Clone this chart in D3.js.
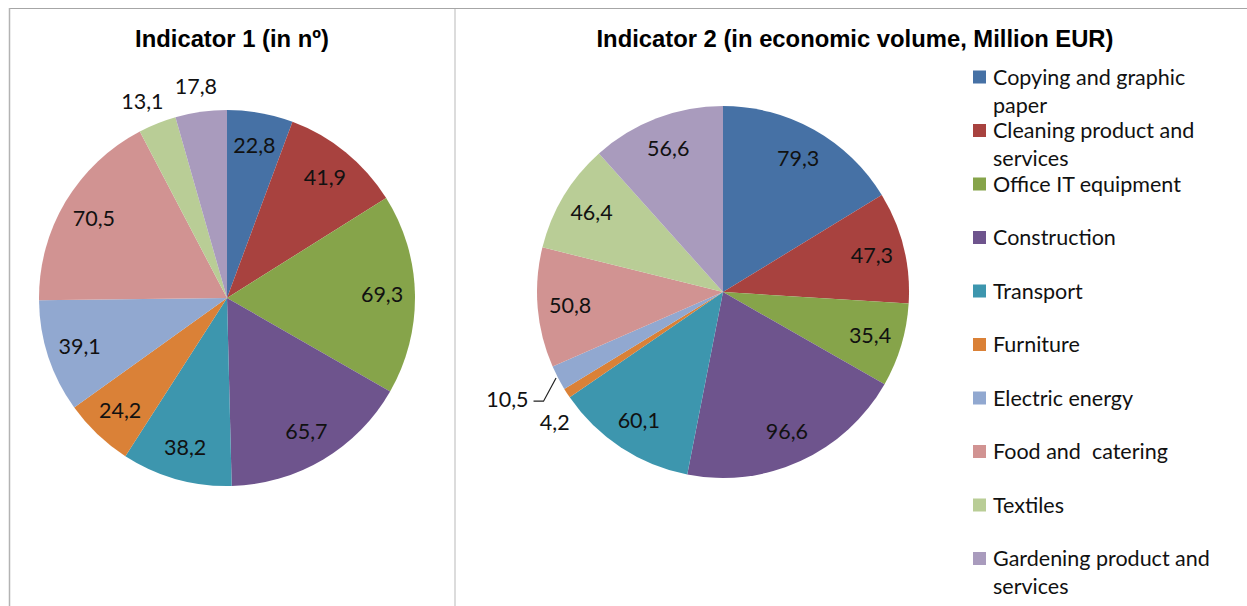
<!DOCTYPE html>
<html>
<head>
<meta charset="utf-8">
<script src="https://cdn.jsdelivr.net/npm/d3@7"></script>
<style>
  html, body { margin: 0; padding: 0; background: #fff; }
  svg { display: block; }
</style>
</head>
<body>
<svg id="chart" width="1247" height="606"></svg>
<script>
// ---- data ----
const categories = [
  "Copying and graphic paper",
  "Cleaning product and services",
  "Office IT equipment",
  "Construction",
  "Transport",
  "Furniture",
  "Electric energy",
  "Food and  catering",
  "Textiles",
  "Gardening product and services"
];
const indicator1Values = [22.8, 41.9, 69.3, 65.7, 38.2, 24.2, 39.1, 70.5, 13.1, 17.8];
const indicator2Values = [79.3, 47.3, 35.4, 96.6, 60.1, 4.2, 10.5, 50.8, 46.4, 56.6];
const chartTitles = ["Indicator 1 (in nº)", "Indicator 2 (in economic volume, Million EUR)"];
const legendLines = [
  ["Copying and graphic", "paper"],
  ["Cleaning product and", "services"],
  ["Office IT equipment"],
  ["Construction"],
  ["Transport"],
  ["Furniture"],
  ["Electric energy"],
  ["Food and  catering"],
  ["Textiles"],
  ["Gardening product and", "services"]
];
const colors = ["#4671A5", "#A8423F", "#86A44A", "#6E548D", "#3D96AE",
                "#DA8137", "#91A8D0", "#D19392", "#B9CD96", "#A99BBD"];

// ---- layout ----
const svg = d3.select("#chart");
const labelFont = "Lato, 'Open Sans', sans-serif";
const fmt = v => String(v).replace(".", ",");

// frame
svg.append("rect").attr("x", 0).attr("y", 0).attr("width", 1247).attr("height", 606).attr("fill", "#fff");
svg.append("line").attr("x1", 9).attr("x2", 1247).attr("y1", 8.5).attr("y2", 8.5)
  .attr("stroke", "#a6a6a6").attr("stroke-width", 1);
svg.append("line").attr("x1", 9.5).attr("x2", 9.5).attr("y1", 8).attr("y2", 606)
  .attr("stroke", "#b3b3b3").attr("stroke-width", 1.5);
svg.append("line").attr("x1", 455).attr("x2", 455).attr("y1", 9).attr("y2", 606)
  .attr("stroke", "#dcdcdc").attr("stroke-width", 2);

const charts = [
  { values: indicator1Values, title: chartTitles[0], cx: 227, cy: 298, r: 188, tx: 232 },
  { values: indicator2Values, title: chartTitles[1], cx: 723, cy: 292, r: 186, tx: 855 }
];

const color = d3.scaleOrdinal().domain(categories).range(colors);
const pie = d3.pie().sort(null).value(d => d.value);

charts.forEach(ch => {
  svg.append("text")
    .attr("x", ch.tx).attr("y", 47)
    .attr("text-anchor", "middle")
    .attr("font-family", "'Liberation Sans', Arial, sans-serif")
    .attr("font-weight", "bold")
    .attr("font-size", 23.8)
    .attr("fill", "#000")
    .text(ch.title);

  const g = svg.append("g").attr("transform", `translate(${ch.cx},${ch.cy})`);
  const data = categories.map((c, i) => ({ cat: c, value: ch.values[i] }));
  const arcs = pie(data);
  const arc = d3.arc().innerRadius(0).outerRadius(ch.r);

  g.selectAll("path.slice").data(arcs).join("path")
    .attr("class", "slice")
    .attr("d", arc)
    .attr("fill", d => color(d.data.cat));

  const labelR = ch.r * 0.825;
  const lg = g.append("g");
  const outside = [];
  arcs.forEach(a => {
    const mid = (a.startAngle + a.endAngle) / 2;
    const t = lg.append("text")
      .attr("font-family", labelFont)
      .attr("font-size", 21.5)
      .attr("fill", "#111")
      .attr("text-anchor", "middle")
      .attr("dy", "0.35em")
      .text(fmt(a.data.value));
    const w = t.node().getComputedTextLength();
    const arcLen = (a.endAngle - a.startAngle) * labelR;
    if (arcLen >= w * 1.15) {
      t.attr("x", Math.sin(mid) * labelR).attr("y", -Math.cos(mid) * labelR);
    } else {
      outside.push({ t, w, h: 20, ang: mid, mid, d: ch.r + 14, pushed: 0 });
    }
  });

  // place outside labels, resolving collisions
  const boxOf = L => {
    const sx = Math.sin(L.ang), cy = -Math.cos(L.ang);
    const x = sx * L.d + sx * L.w / 2;
    const y = cy * L.d + cy * L.h / 2;
    return { x, y, x0: x - L.w / 2, x1: x + L.w / 2, y0: y - L.h / 2, y1: y + L.h / 2 };
  };
  const pad = 10;
  const hit = (a, b) => !(a.x1 + pad <= b.x0 || b.x1 + pad <= a.x0 || a.y1 + pad <= b.y0 || b.y1 + pad <= a.y0);
  for (let i = 1; i < outside.length; i++) {
    const prev = outside[i - 1], cur = outside[i];
    let k = 0;
    while (hit(boxOf(prev), boxOf(cur)) && k < 60) {
      prev.ang -= 0.5 * Math.PI / 180;
      cur.d += 2;
      cur.pushed += 1;
      k++;
    }
  }
  outside.forEach(L => {
    const b = boxOf(L);
    L.t.attr("x", b.x).attr("y", b.y);
    if (L.pushed > 6) {
      const ex = Math.sin(L.mid) * ch.r, ey = -Math.cos(L.mid) * ch.r;
      const left = Math.sin(L.mid) < 0;
      const sx = left ? b.x1 + 5 : b.x0 - 5;
      const pts = [[sx, b.y + 2], [sx + (left ? 10 : -10), b.y + 2], [ex - (left ? 2 : -2), ey]];
      lg.append("path")
        .attr("d", d3.line()(pts))
        .attr("fill", "none")
        .attr("stroke", "#222")
        .attr("stroke-width", 1.2);
    }
  });
});

// legend
const legend = svg.append("g");
legendLines.forEach((lines, i) => {
  const yc = 77 + i * 53.5;
  legend.append("rect")
    .attr("x", 973).attr("y", yc - 6.5)
    .attr("width", 13).attr("height", 13)
    .attr("fill", colors[i]);
  lines.forEach((ln, j) => {
    legend.append("text")
      .attr("x", 993).attr("y", yc + j * 28)
      .attr("dy", "0.35em")
      .attr("font-family", labelFont)
      .attr("font-size", 21.5)
      .attr("fill", "#111")
      .style("white-space", "pre")
      .text(ln);
  });
});
</script>
</body>
</html>
